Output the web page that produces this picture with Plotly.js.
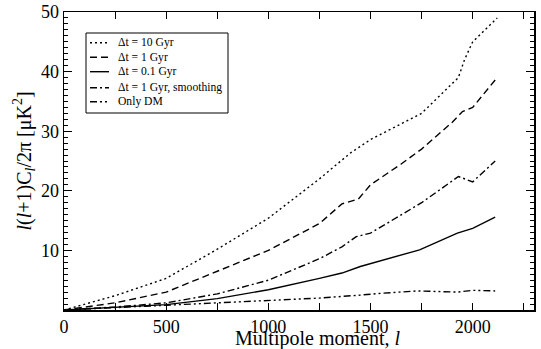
<!DOCTYPE html>
<html>
<head>
<meta charset="utf-8">
<script src="https://cdn.plot.ly/plotly-3.0.1.min.js"></script>
<style>html,body{margin:0;padding:0;background:#fff;}#chart{width:541px;height:349px;}</style>
</head>
<body>
<div id="chart"></div>
<script>
// Data
const names = ["Δt = 10 Gyr", "Δt = 1 Gyr", "Δt = 0.1 Gyr", "Δt = 1 Gyr, smoothing", "Only DM"];

const l_10gyr = [0, 250, 500, 750, 1000, 1250, 1400, 1500, 1750, 1930, 1960, 2000, 2120];
const c_10gyr = [0, 2.4, 5.3, 10.2, 15.4, 22.0, 26.3, 28.6, 33.0, 39.0, 42.0, 45.0, 49.0];

const l_1gyr = [0, 250, 500, 750, 1000, 1250, 1360, 1440, 1500, 1650, 1750, 1900, 1950, 2000, 2110];
const c_1gyr = [0, 1.2, 3.0, 6.5, 10.0, 14.5, 17.8, 18.6, 21.0, 24.5, 27.0, 31.5, 33.3, 34.0, 38.6];

const l_01gyr = [0, 250, 500, 750, 1000, 1250, 1360, 1450, 1500, 1740, 1925, 2000, 2110];
const c_01gyr = [0, 0.4, 0.9, 1.9, 3.4, 5.3, 6.2, 7.3, 7.8, 10.1, 12.9, 13.7, 15.6];

const l_smooth = [0, 250, 500, 750, 1000, 1250, 1360, 1430, 1500, 1750, 1930, 2000, 2110];
const c_smooth = [0, 0.5, 1.2, 2.7, 5.0, 8.6, 10.6, 12.3, 12.9, 18.0, 22.4, 21.5, 25.0];

const l_dm = [0, 250, 500, 750, 1000, 1250, 1450, 1550, 1730, 1925, 2000, 2110];
const c_dm = [0, 0.35, 0.8, 1.2, 1.6, 2.0, 2.5, 2.8, 3.2, 3.0, 3.3, 3.2];

const xTicks = [0, 500, 1000, 1500, 2000];
const yTicks = [10, 20, 30, 40, 50];
const xTitle = "Multipole moment, <i>l</i>";
const yTitle = "<i>l</i>(<i>l</i>+1)C<sub><i>l</i></sub>/2π [μK<sup>2</sup>]";

const xs = [l_10gyr, l_1gyr, l_01gyr, l_smooth, l_dm];
const ys = [c_10gyr, c_1gyr, c_01gyr, c_smooth, c_dm];
const dashes = ["2px,3px", "7px,4px", "solid", "7px,3px,2px,3px", "7px,3px,2px,3px,2px,3px"];

const traces = names.map((n, i) => ({
  x: xs[i], y: ys[i], name: n, type: "scatter", mode: "lines",
  line: {color: "#000", width: 1.4, dash: dashes[i]}
}));

const font = "Liberation Serif, Times New Roman, serif";

// Plot-area geometry in pixels (for placing the hand-built legend box)
const W = 541, H = 349, mL = 64, mR = 7, mT = 12, mB = 39;
const pw = W - mL - mR, ph = H - mT - mB;
const px = v => (v - mL) / pw;
const py = v => (H - mB - v) / ph;

const legBox = {x0: 86, x1: 228, y0: 33, y1: 113};
const legRows = [42.7, 57.3, 71.7, 87.7, 101.7];
const shapes = [{
  type: "rect", xref: "paper", yref: "paper",
  x0: px(legBox.x0), x1: px(legBox.x1), y0: py(legBox.y1), y1: py(legBox.y0),
  line: {color: "#000", width: 1}, fillcolor: "#fff", layer: "above"
}];
const annotations = [{
  text: xTitle, xref: "paper", yref: "paper", x: 0.54, y: 0,
  xanchor: "center", yanchor: "top", yshift: -15, showarrow: false,
  font: {size: 20, family: font, color: "#000"}
}];
names.forEach((n, i) => {
  shapes.push({
    type: "line", xref: "paper", yref: "paper",
    x0: px(90), x1: px(109), y0: py(legRows[i]), y1: py(legRows[i]),
    line: {color: "#000", width: 1.4, dash: dashes[i]}, layer: "above"
  });
  annotations.push({
    text: n, xref: "paper", yref: "paper", x: px(116), y: py(legRows[i]),
    xanchor: "left", yanchor: "middle", showarrow: false,
    font: {size: 11.6, family: font, color: "#000"}
  });
});

const layout = {
  width: W, height: H,
  margin: {l: mL, r: mR, t: mT, b: mB},
  paper_bgcolor: "#fff", plot_bgcolor: "#fff",
  font: {family: font, color: "#000", size: 18},
  showlegend: false,
  xaxis: {
    range: [0, 2300], tickmode: "array", tickvals: xTicks,
    ticks: "inside", ticklen: 7, tickwidth: 1, tickcolor: "#000",
    minor: {tickmode: "linear", tick0: 0, dtick: 250, ticks: "inside", ticklen: 7, tickcolor: "#000"},
    showline: true, linecolor: "#000", linewidth: 1.5, mirror: "ticks",
    showgrid: false, zeroline: false,
    tickfont: {size: 18, family: font}
  },
  yaxis: {
    range: [0, 50], tickmode: "array", tickvals: yTicks,
    ticks: "inside", ticklen: 8, tickwidth: 1, tickcolor: "#000",
    minor: {tickmode: "linear", tick0: 0, dtick: 1, ticks: "inside", ticklen: 4, tickcolor: "#000"},
    showline: true, linecolor: "#000", linewidth: 1.5, mirror: "ticks",
    showgrid: false, zeroline: false,
    tickfont: {size: 18, family: font},
    title: {text: yTitle, font: {size: 20, family: font}, standoff: 4}
  },
  shapes: shapes,
  annotations: annotations
};

Plotly.newPlot("chart", traces, layout, {displayModeBar: false, staticPlot: true});
</script>
</body>
</html>
